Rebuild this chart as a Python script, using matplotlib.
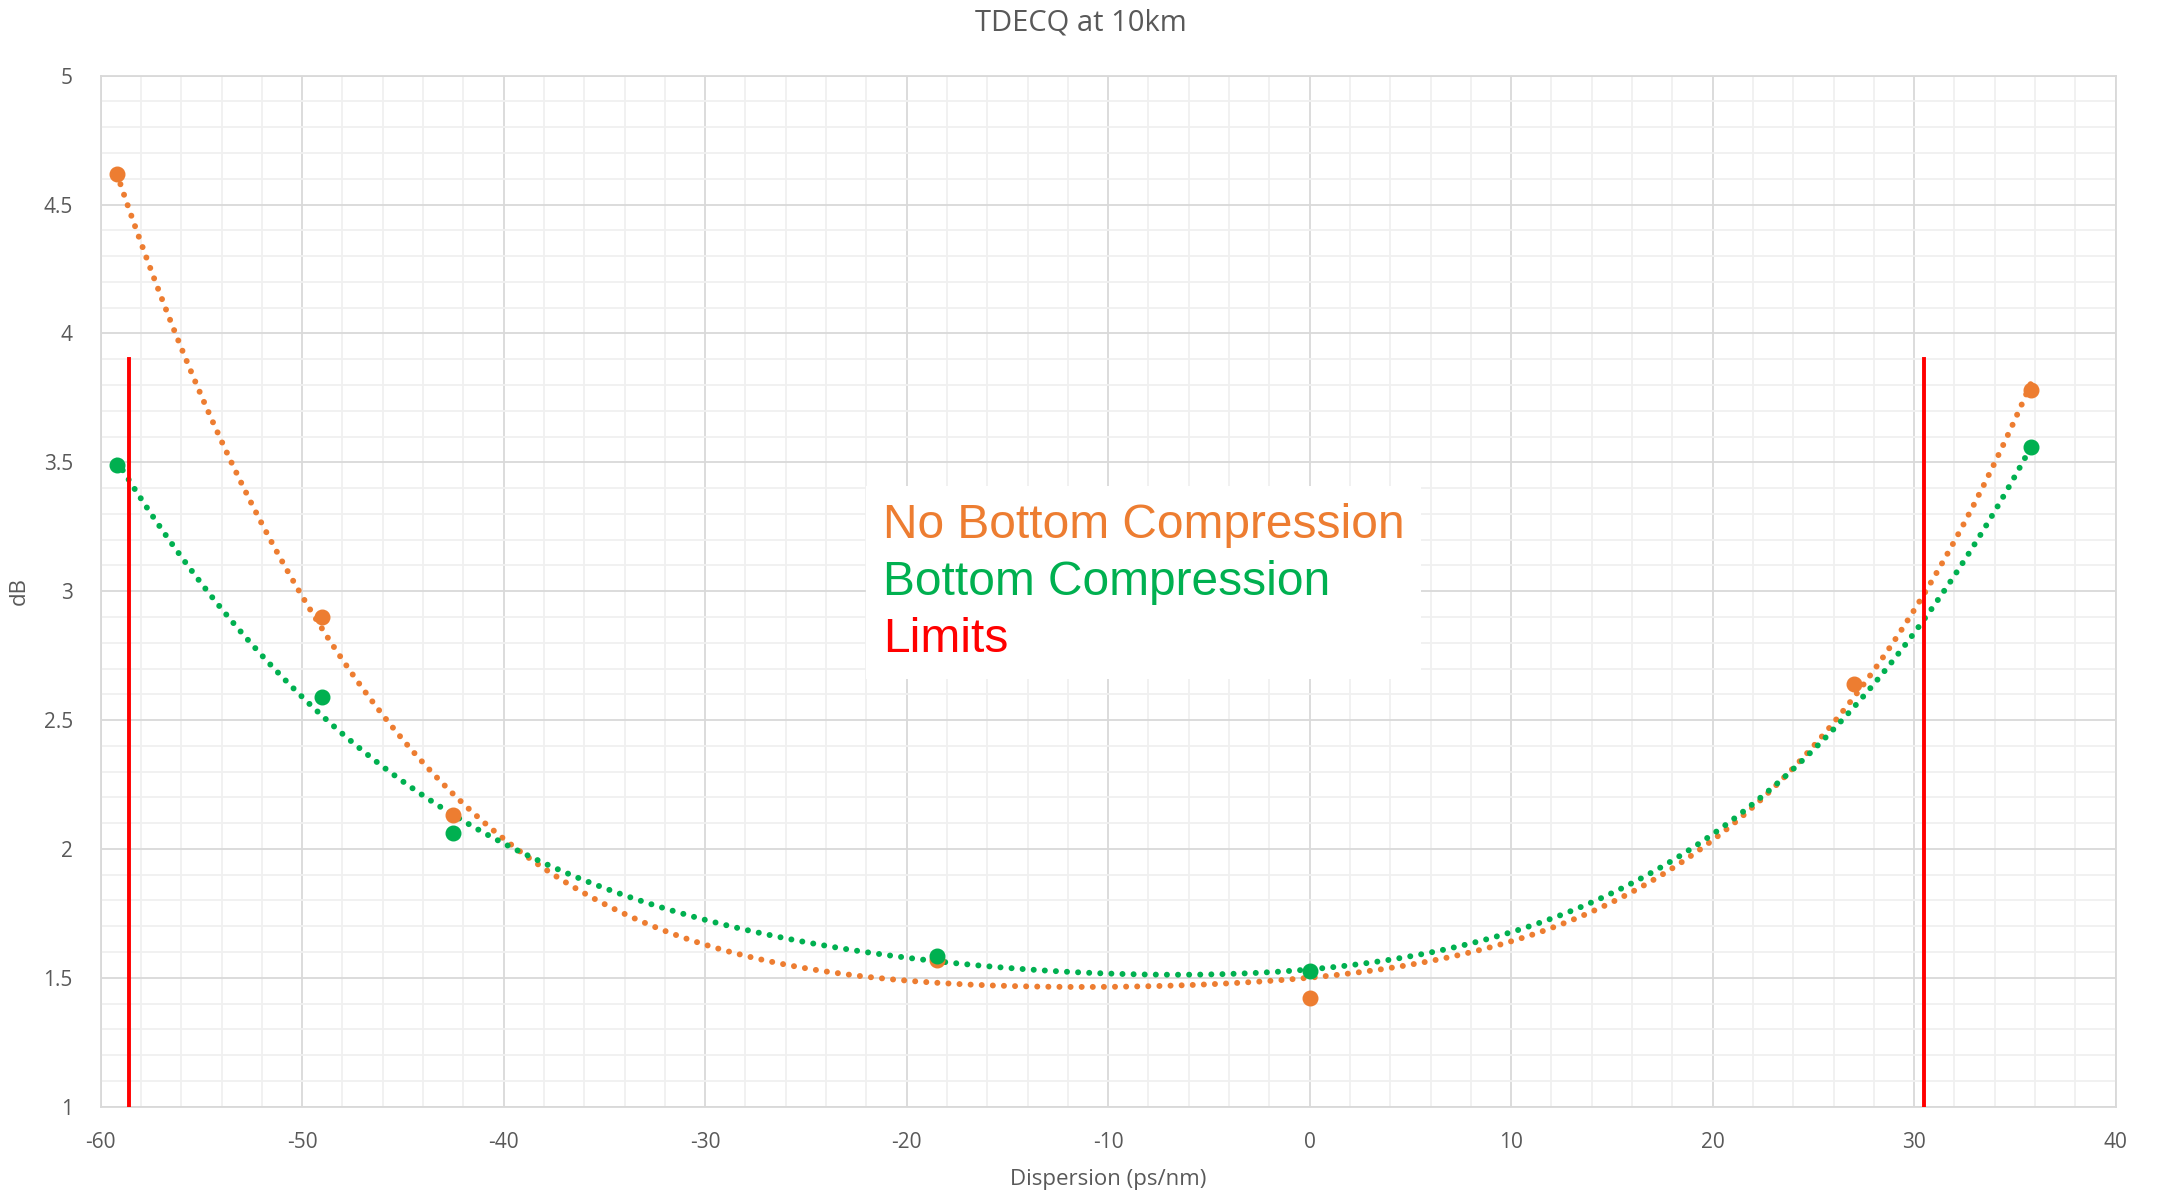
import numpy as np
import matplotlib.pyplot as plt
from matplotlib.lines import Line2D

plt.rcParams['axes.unicode_minus'] = False

# measured points
disp_orange = [-59.2, -49.0, -42.5, -18.5, 0.0, 27.0, 35.8]
tdecq_orange = [4.62, 2.90, 2.13, 1.57, 1.42, 2.64, 3.78]
disp_green = [-59.2, -49.0, -42.5, -18.5, 0.0, 35.8]
tdecq_green = [3.49, 2.59, 2.06, 1.585, 1.525, 3.56]
limits = [-58.6, 30.5]
limit_top = 3.9
trend_order = 4

orange = '#ED7D31'
green = '#00B050'
red = '#FF0000'

fig = plt.figure(figsize=(21.61, 11.96), dpi=100)
ax = fig.add_axes([0.0466, 0.0747, 0.9324, 0.862])

# polynomial trendlines like Excel
for xs, ys, c in [(disp_orange, tdecq_orange, orange), (disp_green, tdecq_green, green)]:
    p = np.polyfit(xs, ys, trend_order)
    xx = np.linspace(min(xs), max(xs), 400)
    ax.plot(xx, np.polyval(p, xx), color=c, lw=4.3, linestyle=(0, (0.01, 1.85)),
            dash_capstyle='round', zorder=3)

ax.plot(disp_orange, tdecq_orange, 'o', color=orange, ms=10.5, zorder=4)
ax.plot(disp_green, tdecq_green, 'o', color=green, ms=10.5, zorder=5)
for x in limits:
    ax.plot([x, x], [1, limit_top], color=red, lw=2.8, zorder=4)

ax.set_xlim(-60, 40)
ax.set_ylim(1, 5)
ax.set_xticks(np.arange(-60, 41, 10))
ax.set_yticks(np.arange(1, 5.01, 0.5))
ax.set_yticklabels(['1', '1.5', '2', '2.5', '3', '3.5', '4', '4.5', '5'])
ax.set_xticks(np.arange(-60, 41, 2), minor=True)
ax.set_yticks(np.arange(1, 5.01, 0.1), minor=True)
ax.grid(which='major', color='#d9d9d9', lw=1.3)
ax.grid(which='minor', color='#f0f0f0', lw=1.3)
ax.set_axisbelow(True)
ax.tick_params(which='both', length=0, labelsize=15, labelcolor='#595959')
ax.tick_params(axis='x', pad=18)
ax.tick_params(axis='y', pad=20)
for lab in ax.get_xticklabels() + ax.get_yticklabels():
    lab.set_family('Open Sans')
for s in ax.spines.values():
    s.set_color('#d9d9d9')
    s.set_linewidth(1.3)

ax.set_xlabel('Dispersion (ps/nm)', fontsize=16, color='#595959', family='Open Sans', labelpad=12)
ax.set_ylabel('dB', fontsize=16, color='#595959', family='Open Sans', labelpad=10)
fig.suptitle('TDECQ at 10km', fontsize=21, color='#595959', family='Open Sans', y=0.993)

handles = [Line2D([], [], linestyle='none') for _ in range(3)]
leg = ax.legend(handles, ['No Bottom Compression', 'Bottom Compression', 'Limits'],
                loc='upper left', bbox_to_anchor=(0.368, 0.625), handlelength=0,
                handletextpad=0, labelcolor=[orange, green, red],
                prop={'family': 'Liberation Sans', 'size': 34.5}, frameon=True,
                fancybox=False, edgecolor='none', facecolor='white', framealpha=1,
                borderpad=0.35, labelspacing=0.25)
leg.set_zorder(6)

fig.savefig('out.png', dpi=100)
